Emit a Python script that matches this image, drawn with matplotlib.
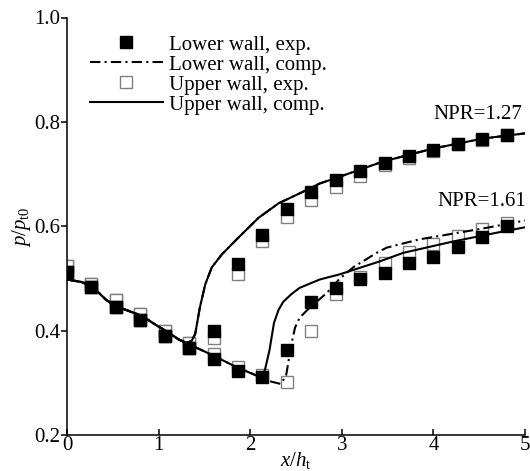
import matplotlib
matplotlib.use('Agg')
import matplotlib.pyplot as plt

plt.rcParams['font.family'] = ['Liberation Serif', 'DejaVu Serif']
plt.rcParams['mathtext.fontset'] = 'custom'
plt.rcParams['mathtext.rm'] = 'Liberation Serif'
plt.rcParams['mathtext.it'] = 'Liberation Serif:italic'

# experimental stations x/h_t
x_exp = [0, 0.267, 0.533, 0.8, 1.067, 1.333, 1.6, 1.867, 2.133, 2.4,
         2.667, 2.933, 3.2, 3.467, 3.733, 4.0, 4.267, 4.533, 4.8]

# NPR = 1.27
low_exp_127 = [0.513, 0.483, 0.446, 0.421, 0.390, 0.367, 0.400, 0.528, 0.583, 0.633,
               0.665, 0.689, 0.705, 0.721, 0.735, 0.747, 0.758, 0.767, 0.775]
up_exp_127 = [0.524, 0.489, 0.458, 0.432, 0.400, 0.376, 0.385, 0.509, 0.571, 0.618,
              0.651, 0.676, 0.697, 0.717, 0.730, 0.745, 0.757, 0.766, 0.774]

# NPR = 1.61
low_exp_161 = [0.513, 0.483, 0.446, 0.421, 0.390, 0.367, 0.346, 0.322, 0.312, 0.363,
               0.455, 0.482, 0.498, 0.511, 0.530, 0.541, 0.561, 0.580, 0.600]
up_exp_161 = [0.524, 0.489, 0.458, 0.432, 0.400, 0.376, 0.356, 0.330, 0.315, 0.302,
              0.399, 0.470, 0.503, 0.530, 0.550, 0.566, 0.581, 0.594, 0.606]

# computations
x_comp_127 = [0, 0.164, 0.31, 0.42, 0.53, 0.67, 0.82, 0.96, 1.11, 1.22, 1.30, 1.36,
              1.40, 1.45, 1.51, 1.58, 1.69, 1.87, 2.09, 2.31, 2.54, 2.76, 2.93,
              3.45, 4.0, 4.54, 5.0]
y_comp_127 = [0.498, 0.493, 0.479, 0.460, 0.447, 0.438, 0.428, 0.412, 0.396, 0.383,
              0.377, 0.380, 0.394, 0.444, 0.489, 0.521, 0.546, 0.578, 0.616, 0.644,
              0.663, 0.682, 0.692, 0.724, 0.749, 0.768, 0.778]

x_up_161 = [0, 0.164, 0.31, 0.42, 0.53, 0.67, 0.82, 0.96, 1.11, 1.22, 1.33, 1.6,
            1.85, 2.11, 2.16, 2.21, 2.26, 2.31, 2.36, 2.45, 2.54, 2.76, 2.98, 3.42,
            3.67, 4.22, 4.76, 5.0]
y_up_161 = [0.498, 0.493, 0.479, 0.460, 0.447, 0.438, 0.428, 0.412, 0.396, 0.383,
            0.374, 0.352, 0.330, 0.311, 0.324, 0.362, 0.415, 0.440, 0.455, 0.470,
            0.482, 0.498, 0.508, 0.533, 0.549, 0.571, 0.590, 0.598]

x_low_161 = [0, 0.164, 0.31, 0.42, 0.53, 0.67, 0.82, 0.96, 1.11, 1.22, 1.33, 1.6,
             1.85, 2.11, 2.235, 2.33, 2.39, 2.42, 2.45, 2.49, 2.54, 2.65, 2.835,
             2.98, 3.13, 3.27, 3.38, 3.49, 3.85, 4.22, 4.58, 5.0]
y_low_161 = [0.498, 0.493, 0.479, 0.460, 0.447, 0.438, 0.428, 0.412, 0.396, 0.383,
             0.374, 0.352, 0.330, 0.311, 0.302, 0.298, 0.312, 0.343, 0.375, 0.406,
             0.425, 0.444, 0.472, 0.500, 0.522, 0.537, 0.549, 0.559, 0.575, 0.586,
             0.597, 0.611]

fig = plt.figure(figsize=(5.3, 4.71), dpi=100)
ax = fig.add_axes([67/530, 1-435/471, 458/530, 417.5/471])

dashdot = (5, 2, 1, 2)
open_kw = dict(marker='s', ms=8.5, mfc='white', mec='#808080', mew=1.0, ls='none', zorder=2)
fill_kw = dict(marker='s', ms=8.5, mfc='black', mec='black', ls='none', zorder=3)

# open squares first, filled squares on top
ax.plot(x_exp, up_exp_127, **open_kw)
ax.plot(x_exp, up_exp_161, **open_kw)
ax.plot(x_exp, low_exp_127, **fill_kw)
ax.plot(x_exp, low_exp_161, **fill_kw)

ax.plot(x_comp_127, y_comp_127, color='black', lw=1.5, dashes=dashdot, zorder=4)
ax.plot(x_low_161, y_low_161, color='black', lw=1.5, dashes=dashdot, zorder=4)
ax.plot(x_comp_127, y_comp_127, color='black', lw=1.5, zorder=5)
ax.plot(x_up_161, y_up_161, color='black', lw=1.5, zorder=5)

# legend proxies
h1, = ax.plot([], [], **fill_kw)
h2, = ax.plot([], [], color='black', lw=1.5, dashes=dashdot)
h3, = ax.plot([], [], **open_kw)
h4, = ax.plot([], [], color='black', lw=1.5)
fig.legend([h1, h2, h3, h4],
           ['Lower wall, exp.', 'Lower wall, comp.', 'Upper wall, exp.', 'Upper wall, comp.'],
           loc='upper left', bbox_to_anchor=(90/530, 1-35/471), frameon=False,
           fontsize=15, handlelength=3.5, handletextpad=0.3, borderpad=0,
           borderaxespad=0, labelspacing=0.02)

ax.text(4.0, 0.806, 'NPR=1.27', fontsize=15, ha='left', va='baseline')
ax.text(4.04, 0.638, 'NPR=1.61', fontsize=15, ha='left', va='baseline')

ax.set_xlim(0, 5)
ax.set_ylim(0.2, 1.0)
ax.set_xticks([0, 1, 2, 3, 4, 5])
ax.set_yticks([0.2, 0.4, 0.6, 0.8, 1.0])
ax.set_yticklabels(['0.2', '0.4', '0.6', '0.8', '1.0'])
ax.tick_params(axis='x', direction='in', length=4, width=1.1, pad=1, labelsize=15)
ax.tick_params(axis='y', direction='out', length=4, width=1.1, pad=1, labelsize=15)
for s in ['top', 'right']:
    ax.spines[s].set_visible(False)
for s in ['left', 'bottom']:
    ax.spines[s].set_linewidth(1.1)

ax.set_xlabel('$x/h_{\\rm t}$', fontsize=15, labelpad=-4)
ax.set_ylabel('$p/p_{\\rm t0}$', fontsize=15, labelpad=1)

fig.savefig('out.png', dpi=100)
